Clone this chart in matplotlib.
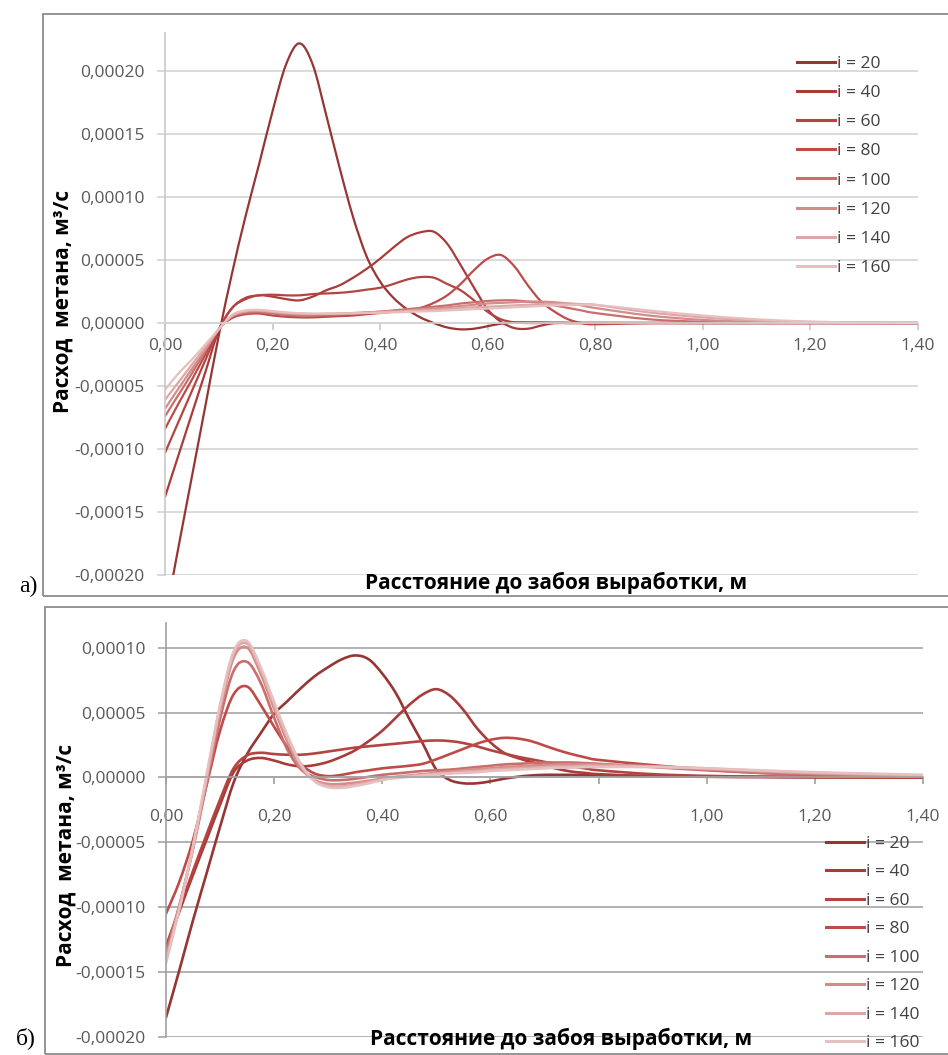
import numpy as np
import matplotlib
matplotlib.use("Agg")
import matplotlib.pyplot as plt
from matplotlib.patches import Rectangle, PathPatch
from matplotlib.path import Path
from matplotlib.lines import Line2D
from matplotlib.font_manager import FontProperties

# ---------------- data (values in 1e-5 m3/s) ----------------
X = [0, .025, .05, .075, .1, .125, .15, .175, .2, .225, .25, .275, .3, .325, .35,
     .375, .4, .425, .45, .475, .5, .525, .55, .575, .6, .625, .65, .675, .7, .725,
     .75, .775, .8, .9, 1.0, 1.1, 1.2, 1.3, 1.4]

labels = ["i = 20", "i = 40", "i = 60", "i = 80", "i = 100", "i = 120", "i = 140", "i = 160"]
colors = ["#963634", "#A93B3A", "#B44442", "#BE4B48", "#CA6E6C", "#D48C8A", "#DDA7A6", "#E6BFBE"]

# panel a)
A20 = [-23.5, -17.8, -12.2, -6.6, -1.0, 4.0, 8.5, 12.6, 16.8, 20.5, 22.2, 20.5, 16.5, 12.3, 8.4,
       5.3, 3.3, 2.0, 1.1, 0.45, 0.0, -0.35, -0.5, -0.45, -0.25, -0.05, 0.05, 0.05, 0.05, 0.03,
       0.02, 0.02, 0.02, 0.01, 0.0, 0.0, 0.0, 0.0, 0.0]
A40 = [-13.8, -10.5, -7.2, -3.9, -0.6, 1.2, 1.9, 2.2, 2.1, 1.9, 1.8, 2.1, 2.6, 3.0, 3.6,
       4.3, 5.1, 6.0, 6.8, 7.2, 7.25, 6.3, 4.6, 2.8, 1.1, 0.1, -0.4, -0.45, -0.2, 0.0,
       0.0, 0.0, 0.0, 0.0, 0.0, 0.0, 0.0, 0.0, 0.0]
A60 = [-10.3, -7.85, -5.4, -2.95, -0.5, 1.2, 2.0, 2.2, 2.25, 2.2, 2.2, 2.3, 2.35, 2.4, 2.5,
       2.65, 2.8, 3.1, 3.45, 3.65, 3.6, 3.1, 2.6, 1.8, 0.9, 0.3, 0.05, 0.0, 0.0, 0.0,
       0.0, 0.0, 0.0, 0.0, 0.0, 0.0, 0.0, 0.0, 0.0]
A80 = [-8.4, -6.4, -4.5, -2.5, -0.5, 0.4, 0.7, 0.75, 0.6, 0.5, 0.45, 0.45, 0.5, 0.55, 0.6,
       0.7, 0.8, 0.9, 1.0, 1.2, 1.6, 2.2, 3.1, 4.2, 5.1, 5.4, 4.5, 3.0, 1.7, 0.9,
       0.3, 0.0, -0.1, 0.0, 0.0, 0.0, 0.0, 0.0, 0.0]
A100 = [-7.4, -5.7, -4.0, -2.2, -0.5, 0.5, 0.8, 0.85, 0.75, 0.65, 0.6, 0.6, 0.62, 0.68, 0.75,
        0.82, 0.9, 1.0, 1.1, 1.2, 1.3, 1.4, 1.55, 1.65, 1.75, 1.8, 1.8, 1.7, 1.6, 1.4,
        1.2, 1.0, 0.8, 0.3, 0.1, 0.03, 0.01, 0.0, 0.0]
A120 = [-6.8, -5.2, -3.65, -2.1, -0.5, 0.55, 0.9, 0.95, 0.85, 0.75, 0.7, 0.7, 0.72, 0.75, 0.8,
        0.85, 0.9, 0.95, 1.0, 1.1, 1.15, 1.25, 1.35, 1.45, 1.55, 1.6, 1.65, 1.7, 1.7, 1.65,
        1.55, 1.4, 1.2, 0.6, 0.25, 0.1, 0.03, 0.01, 0.0]
A140 = [-6.1, -4.7, -3.3, -1.9, -0.5, 0.6, 0.95, 1.0, 0.9, 0.8, 0.75, 0.72, 0.73, 0.75, 0.78,
        0.8, 0.85, 0.9, 0.95, 1.0, 1.05, 1.1, 1.2, 1.25, 1.3, 1.35, 1.4, 1.45, 1.5, 1.52,
        1.55, 1.5, 1.45, 0.85, 0.45, 0.2, 0.08, 0.03, 0.01]
A160 = [-5.3, -4.0, -2.9, -1.7, -0.5, 0.65, 1.0, 1.05, 0.95, 0.85, 0.78, 0.75, 0.75, 0.76, 0.78,
        0.8, 0.82, 0.85, 0.88, 0.92, 0.95, 1.0, 1.05, 1.1, 1.15, 1.2, 1.25, 1.3, 1.35, 1.4,
        1.42, 1.45, 1.45, 1.0, 0.6, 0.3, 0.12, 0.04, 0.01]

# panel б)
B20 = [-18.5, -14.8, -11.0, -7.4, -3.8, -0.4, 1.8, 3.4, 4.9, 5.9, 6.9, 7.8, 8.5, 9.1, 9.4,
       9.1, 8.0, 6.5, 4.5, 2.6, 0.6, -0.2, -0.45, -0.45, -0.3, -0.1, 0.05, 0.15, 0.2, 0.2,
       0.2, 0.18, 0.15, 0.1, 0.06, 0.04, 0.02, 0.01, 0.0]
B40 = [-13.2, -10.3, -7.5, -4.8, -2.1, 0.4, 1.3, 1.5, 1.3, 1.0, 0.85, 0.95, 1.2, 1.6, 2.1,
       2.8, 3.6, 4.6, 5.6, 6.4, 6.8, 6.3, 5.2, 3.8, 2.7, 1.9, 1.5, 1.2, 0.9, 0.65,
       0.45, 0.35, 0.25, 0.1, 0.05, 0.03, 0.02, 0.01, 0.0]
B60 = [-13.0, -10.1, -7.2, -4.4, -1.7, 0.7, 1.7, 1.9, 1.8, 1.75, 1.75, 1.85, 2.0, 2.15, 2.3,
       2.4, 2.5, 2.6, 2.7, 2.8, 2.85, 2.8, 2.65, 2.4, 2.1, 1.85, 1.6, 1.4, 1.2, 1.0,
       0.85, 0.7, 0.55, 0.25, 0.12, 0.06, 0.03, 0.02, 0.01]
B80 = [-10.5, -8.0, -4.8, -0.6, 3.6, 6.4, 7.0, 5.6, 3.9, 2.3, 1.0, 0.3, 0.1, 0.2, 0.4,
       0.55, 0.7, 0.8, 0.9, 1.05, 1.4, 1.8, 2.2, 2.6, 2.9, 3.05, 3.0, 2.8, 2.45, 2.1,
       1.8, 1.55, 1.35, 0.95, 0.6, 0.35, 0.2, 0.1, 0.05]
B100 = [-13.5, -9.8, -5.5, -0.5, 4.5, 8.2, 8.9, 7.3, 4.6, 2.1, 0.6, 0.05, -0.2, -0.2, -0.1,
        0.05, 0.2, 0.3, 0.4, 0.5, 0.55, 0.6, 0.7, 0.8, 0.9, 1.0, 1.05, 1.1, 1.15, 1.15,
        1.15, 1.1, 1.05, 0.8, 0.55, 0.35, 0.22, 0.13, 0.08]
B120 = [-13.9, -9.9, -5.4, -0.2, 5.1, 9.2, 10.0, 8.0, 5.3, 2.7, 0.7, -0.2, -0.5, -0.5, -0.4,
        -0.25, -0.1, 0.05, 0.15, 0.25, 0.35, 0.45, 0.55, 0.65, 0.7, 0.8, 0.85, 0.9, 0.95, 1.0,
        1.0, 1.0, 1.0, 0.85, 0.65, 0.45, 0.3, 0.2, 0.12]
B140 = [-14.1, -10.0, -5.3, 0.0, 5.4, 9.5, 10.3, 8.3, 5.6, 3.0, 0.9, -0.25, -0.65, -0.7, -0.55,
        -0.35, -0.15, 0.0, 0.1, 0.2, 0.3, 0.35, 0.45, 0.5, 0.6, 0.65, 0.7, 0.75, 0.8, 0.85,
        0.85, 0.9, 0.9, 0.85, 0.7, 0.5, 0.35, 0.25, 0.15]
B160 = [-14.3, -10.1, -5.3, 0.2, 5.6, 9.7, 10.5, 8.5, 5.8, 3.2, 1.0, -0.3, -0.75, -0.8, -0.65,
        -0.45, -0.2, -0.05, 0.05, 0.15, 0.2, 0.3, 0.35, 0.4, 0.5, 0.55, 0.6, 0.65, 0.7, 0.75,
        0.75, 0.8, 0.8, 0.8, 0.7, 0.55, 0.4, 0.3, 0.2]

SERIES_A = [A20, A40, A60, A80, A100, A120, A140, A160]
SERIES_B = [B20, B40, B60, B80, B100, B120, B140, B160]
SCALE = 1e-5

X_TICKS = [0.0, 0.2, 0.4, 0.6, 0.8, 1.0, 1.2, 1.4]
A_YTICKS = [-0.0002, -0.00015, -0.0001, -0.00005, 0.0, 0.00005, 0.0001, 0.00015, 0.0002]
B_YTICKS = [-0.0002, -0.00015, -0.0001, -0.00005, 0.0, 0.00005, 0.0001]

YLABEL = "Расход  метана, м³/с"
XLABEL = "Расстояние до забоя выработки, м"

# ---------------- styling ----------------
W, H = 948, 1055
fig = plt.figure(figsize=(W / 100, H / 100), dpi=100)
FONT = "Open Sans"
tick_fp = FontProperties(family=FONT, size=12.5)
leg_fp = FontProperties(family=FONT, size=12.5)
lab_fp = FontProperties(family=FONT, size=15, weight="bold")


def fmt(v, nd):
    if abs(v) < 1e-12:
        v = 0.0
    return f"{v:.{nd}f}".replace(".", ",")


def smooth_path(xs, ys):
    """Excel-style smoothed line: cubic Bezier segments through the data points."""
    pts = np.column_stack([xs, ys])
    n = len(pts)
    verts = [pts[0]]
    codes = [Path.MOVETO]
    for i in range(n - 1):
        p0 = pts[max(i - 1, 0)]
        p1 = pts[i]
        p2 = pts[i + 1]
        p3 = pts[min(i + 2, n - 1)]
        c1 = p1 + (p2 - p0) / 6.0
        c2 = p2 - (p3 - p1) / 6.0
        verts += [c1, c2, p2]
        codes += [Path.CURVE4] * 3
    return Path(verts, codes)


def make_axes(rect, ylim, yticks, series, gridc, axc, lw, xpad, leg_anchor, leg_spacing):
    ax = fig.add_axes(rect)
    ax.set_xlim(0, 1.4)
    ax.set_ylim(*ylim)
    xs = np.array(X)
    handles = []
    for vals, c, lab in zip(series, colors, labels):
        patch = PathPatch(smooth_path(xs, np.array(vals) * SCALE), fill=False,
                          ec=c, lw=lw, joinstyle="round", capstyle="round")
        ax.add_patch(patch)
        handles.append(Line2D([], [], color=c, lw=2.2, label=lab))
    for s in ("top", "right"):
        ax.spines[s].set_visible(False)
    ax.spines["bottom"].set_position(("data", 0))
    ax.spines["bottom"].set_color(gridc)
    ax.spines["left"].set_color(axc)
    ax.spines["left"].set_linewidth(1.2)
    ax.spines["bottom"].set_linewidth(1.2)
    ax.set_yticks(yticks)
    ax.set_yticklabels([fmt(v, 5) for v in yticks], fontproperties=tick_fp)
    ax.set_xticks(X_TICKS)
    ax.set_xticklabels([fmt(v, 2) for v in X_TICKS], fontproperties=tick_fp)
    ax.yaxis.grid(True, color=gridc, lw=1.2)
    ax.set_axisbelow(True)
    ax.tick_params(axis="y", length=6, width=1.2, color=gridc, labelcolor="#595959")
    ax.tick_params(axis="x", length=5, width=1.2, color=axc, labelcolor="#595959")
    ax.yaxis.set_tick_params(pad=9)
    ax.xaxis.set_tick_params(pad=xpad)
    leg = ax.legend(handles=handles, loc="upper left", bbox_to_anchor=leg_anchor,
                    frameon=False, borderpad=0, borderaxespad=0, handlelength=2.2,
                    handletextpad=0.1, labelspacing=leg_spacing, prop=leg_fp)
    for t in leg.get_texts():
        t.set_color("#404040")
    return ax


# panel a)
ax1 = make_axes([165 / W, 1 - 575 / H, (917.5 - 165) / W, (575 - 33.3) / H],
                (-0.0002, 0.00023), A_YTICKS, SERIES_A, "#D4D4D4", "#C8C8C8", 1.6, 6,
                (0.84, 0.958), 0.745)
# panel б)
ax2 = make_axes([166 / W, 1 - 1037 / H, (923 - 166) / W, (1037 - 623) / H],
                (-0.0002, 0.000119), B_YTICKS, SERIES_B, "#A6A6A6", "#A0A0A0", 1.9, 18,
                (0.872, 0.486), 0.71)

# axis titles
fig.text(63 / W, 1 - 301 / H, YLABEL, rotation=90, ha="center", va="center",
         fontproperties=lab_fp, color="black")
fig.text(556 / W, 1 - 583 / H, XLABEL, ha="center", va="center",
         fontproperties=lab_fp, color="black")
fig.text(66 / W, 1 - 855 / H, YLABEL, rotation=90, ha="center", va="center",
         fontproperties=lab_fp, color="black")
fig.text(561 / W, 1 - 1039 / H, XLABEL, ha="center", va="center",
         fontproperties=lab_fp, color="black")

# panel letters
serif = FontProperties(family="Liberation Serif", size=17)
fig.text(28 / W, 1 - 586 / H, "а)", ha="center", va="center", fontproperties=serif)
fig.text(26 / W, 1 - 1038 / H, "б)", ha="center", va="center", fontproperties=serif)

# chart borders
fig.patches.append(Rectangle((43 / W, 1 - 596 / H), 1.0, (596 - 14) / H,
                             transform=fig.transFigure, fill=False, ec="#8C8C8C", lw=1.3))
fig.patches.append(Rectangle((45 / W, 1 - 1054 / H), 1.0, (1054 - 607) / H,
                             transform=fig.transFigure, fill=False, ec="#8C8C8C", lw=1.3))

fig.savefig("out.png", dpi=100)
